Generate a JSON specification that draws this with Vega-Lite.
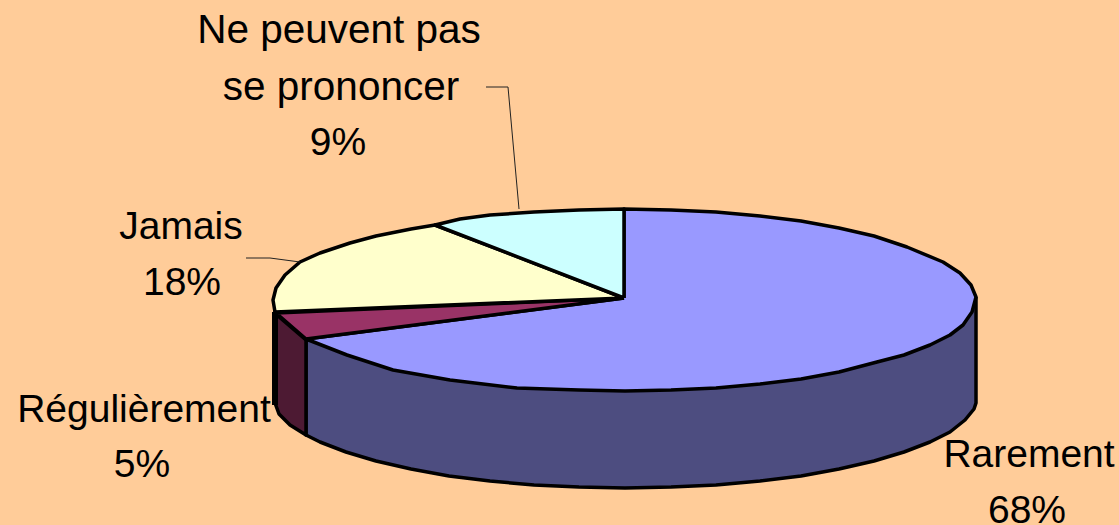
{"$schema":"https://vega.github.io/schema/vega-lite/v6.json","width":1119,"height":525,"padding":0,"autosize":{"type":"none"},"background":"#FFCC99","view":{"stroke":null},
"datasets":{
"shapes":[
{"s":"Rarement côté","o":0,"x":976,"y":297},{"s":"Rarement côté","o":1,"x":976,"y":403},{"s":"Rarement côté","o":2,"x":974,"y":409},{"s":"Rarement côté","o":3,"x":965,"y":420},{"s":"Rarement côté","o":4,"x":950,"y":432},{"s":"Rarement côté","o":5,"x":930,"y":442},{"s":"Rarement côté","o":6,"x":904,"y":452},{"s":"Rarement côté","o":7,"x":874,"y":461},{"s":"Rarement côté","o":8,"x":839,"y":469},{"s":"Rarement côté","o":9,"x":801,"y":476},{"s":"Rarement côté","o":10,"x":760,"y":481},{"s":"Rarement côté","o":11,"x":716,"y":485},{"s":"Rarement côté","o":12,"x":671,"y":487},{"s":"Rarement côté","o":13,"x":625,"y":488},{"s":"Rarement côté","o":14,"x":579,"y":487},{"s":"Rarement côté","o":15,"x":534,"y":485},{"s":"Rarement côté","o":16,"x":490,"y":481},{"s":"Rarement côté","o":17,"x":449,"y":476},{"s":"Rarement côté","o":18,"x":411,"y":469},{"s":"Rarement côté","o":19,"x":376,"y":461},{"s":"Rarement côté","o":20,"x":346,"y":452},{"s":"Rarement côté","o":21,"x":320,"y":442},{"s":"Rarement côté","o":22,"x":306,"y":435},{"s":"Rarement côté","o":23,"x":306,"y":340},{"s":"Rarement côté","o":24,"x":624,"y":340},{"s":"Rarement côté","o":25,"x":976,"y":297},
{"s":"Régulièrement côté","o":0,"x":306,"y":340},{"s":"Régulièrement côté","o":1,"x":278,"y":316},{"s":"Régulièrement côté","o":2,"x":275,"y":312},{"s":"Régulièrement côté","o":3,"x":275,"y":403},{"s":"Régulièrement côté","o":4,"x":279,"y":414},{"s":"Régulièrement côté","o":5,"x":290,"y":425},{"s":"Régulièrement côté","o":6,"x":306,"y":435},{"s":"Régulièrement côté","o":7,"x":306,"y":340},
{"s":"Rarement","o":0,"x":624,"y":298},{"s":"Rarement","o":1,"x":624,"y":209},{"s":"Rarement","o":2,"x":671,"y":210},{"s":"Rarement","o":3,"x":716,"y":212},{"s":"Rarement","o":4,"x":760,"y":216},{"s":"Rarement","o":5,"x":801,"y":221},{"s":"Rarement","o":6,"x":839,"y":228},{"s":"Rarement","o":7,"x":874,"y":236},{"s":"Rarement","o":8,"x":907,"y":247},{"s":"Rarement","o":9,"x":943,"y":262},{"s":"Rarement","o":10,"x":960,"y":273},{"s":"Rarement","o":11,"x":971,"y":285},{"s":"Rarement","o":12,"x":976,"y":297},{"s":"Rarement","o":13,"x":972,"y":312},{"s":"Rarement","o":14,"x":963,"y":325},{"s":"Rarement","o":15,"x":950,"y":335},{"s":"Rarement","o":16,"x":930,"y":345},{"s":"Rarement","o":17,"x":904,"y":355},{"s":"Rarement","o":18,"x":877,"y":362},{"s":"Rarement","o":19,"x":839,"y":372},{"s":"Rarement","o":20,"x":801,"y":379},{"s":"Rarement","o":21,"x":760,"y":384},{"s":"Rarement","o":22,"x":716,"y":388},{"s":"Rarement","o":23,"x":671,"y":390},{"s":"Rarement","o":24,"x":625,"y":391},{"s":"Rarement","o":25,"x":579,"y":390},{"s":"Rarement","o":26,"x":517,"y":388},{"s":"Rarement","o":27,"x":450,"y":380},{"s":"Rarement","o":28,"x":393,"y":370},{"s":"Rarement","o":29,"x":347,"y":355},{"s":"Rarement","o":30,"x":306,"y":339},{"s":"Rarement","o":31,"x":624,"y":298},
{"s":"Régulièrement","o":0,"x":624,"y":298},{"s":"Régulièrement","o":1,"x":306,"y":339},{"s":"Régulièrement","o":2,"x":276,"y":313},{"s":"Régulièrement","o":3,"x":624,"y":298},
{"s":"Jamais","o":0,"x":624,"y":298},{"s":"Jamais","o":1,"x":275,"y":312},{"s":"Jamais","o":2,"x":273,"y":300},{"s":"Jamais","o":3,"x":276,"y":288},{"s":"Jamais","o":4,"x":285,"y":275},{"s":"Jamais","o":5,"x":300,"y":262},{"s":"Jamais","o":6,"x":320,"y":253},{"s":"Jamais","o":7,"x":350,"y":243},{"s":"Jamais","o":8,"x":376,"y":236},{"s":"Jamais","o":9,"x":411,"y":229},{"s":"Jamais","o":10,"x":435,"y":225},{"s":"Jamais","o":11,"x":624,"y":298},
{"s":"Ne peuvent pas se prononcer","o":0,"x":624,"y":298},{"s":"Ne peuvent pas se prononcer","o":1,"x":435,"y":225},{"s":"Ne peuvent pas se prononcer","o":2,"x":460,"y":219},{"s":"Ne peuvent pas se prononcer","o":3,"x":490,"y":215},{"s":"Ne peuvent pas se prononcer","o":4,"x":534,"y":212},{"s":"Ne peuvent pas se prononcer","o":5,"x":579,"y":210},{"s":"Ne peuvent pas se prononcer","o":6,"x":624,"y":209},{"s":"Ne peuvent pas se prononcer","o":7,"x":624,"y":298}
],
"leaders":[
{"s":"Ne peuvent pas se prononcer","o":0,"x":486,"y":87},{"s":"Ne peuvent pas se prononcer","o":1,"x":508,"y":87},{"s":"Ne peuvent pas se prononcer","o":2,"x":519,"y":209},
{"s":"Jamais","o":0,"x":246,"y":258},{"s":"Jamais","o":1,"x":270,"y":258},{"s":"Jamais","o":2,"x":300,"y":262}
],
"edge":[{"o":0,"x":275,"y":312},{"o":1,"x":275,"y":405}],
"labels":[
{"t":"9%","x":338,"y":155},
{"t":"Jamais","x":181,"y":239},{"t":"18%","x":182,"y":295},
{"t":"Régulièrement","x":144,"y":422},{"t":"5%","x":142,"y":477},
{"t":"Rarement","x":1029,"y":467},{"t":"68%","x":1027,"y":523}
],
"labelsWide":[
{"t":"Ne peuvent pas","x":339,"y":43},{"t":"se prononcer","x":341,"y":100}
]},
"encoding":{
"x":{"field":"x","type":"quantitative","scale":{"domain":[0,1119]},"axis":null},
"y":{"field":"y","type":"quantitative","scale":{"domain":[525,0]},"axis":null}
},
"layer":[
{"data":{"name":"shapes"},"mark":{"type":"line","stroke":"#000000","strokeWidth":3.5,"strokeJoin":"round"},
"encoding":{"order":{"field":"o","type":"quantitative"},
"fill":{"field":"s","type":"nominal","legend":null,"sort":null,"scale":{"domain":["Rarement côté","Régulièrement côté","Rarement","Régulièrement","Jamais","Ne peuvent pas se prononcer"],"range":["#4D4D80","#4D1A33","#9999FF","#993366","#FFFFCC","#CCFFFF"]}}}},
{"data":{"name":"edge"},"mark":{"type":"line","stroke":"#000000","strokeWidth":6},
"encoding":{"order":{"field":"o","type":"quantitative"}}},
{"data":{"name":"leaders"},"mark":{"type":"line","stroke":"#222222","strokeWidth":1},
"encoding":{"order":{"field":"o","type":"quantitative"},"detail":{"field":"s","type":"nominal"}}},
{"data":{"name":"labels"},"mark":{"type":"text","font":"Liberation Sans","fontSize":39,"baseline":"alphabetic","align":"center","color":"#000000"},
"encoding":{"text":{"field":"t","type":"nominal"}}},
{"data":{"name":"labelsWide"},"mark":{"type":"text","font":"Liberation Sans","fontSize":40.5,"baseline":"alphabetic","align":"center","color":"#000000"},
"encoding":{"text":{"field":"t","type":"nominal"}}}
]}
